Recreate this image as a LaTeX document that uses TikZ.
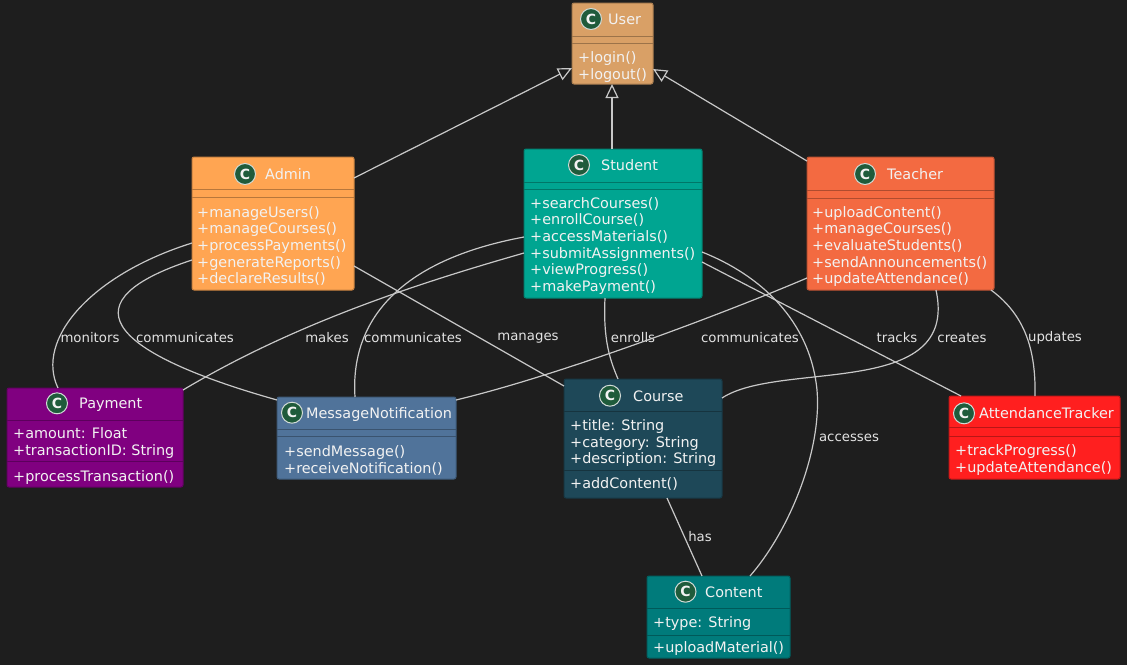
\documentclass[tikz,border=0pt]{standalone}
\usepackage{fontspec}
\setmainfont{DejaVu Sans}
\usetikzlibrary{arrows.meta,calc}

\definecolor{bgc}{HTML}{1E1E1E}
\definecolor{wire}{HTML}{C8C8C8}
\definecolor{ink}{HTML}{F2F2F2}
\definecolor{lbl}{HTML}{E2E2E2}
\definecolor{iconfill}{HTML}{1F5B3B}
\definecolor{cUser}{HTML}{D9A066}
\definecolor{cAdmin}{HTML}{FFA552}
\definecolor{cStudent}{HTML}{00A591}
\definecolor{cTeacher}{HTML}{F36A41}
\definecolor{cPayment}{HTML}{800080}
\definecolor{cMessage}{HTML}{50739A}
\definecolor{cCourse}{HTML}{1E4858}
\definecolor{cTracker}{HTML}{FF1F1F}
\definecolor{cContent}{HTML}{007B7B}

\tikzset{
  classbox/.style={draw=#1!78!black, fill=#1, line width=1pt, rounded corners=2pt,
    anchor=north west, inner sep=0pt, outer sep=0pt},
  sepstyle/.style={draw=#1!72!black, line width=1pt},
  hdrname/.style={anchor=west, inner sep=0pt, text=ink,
    font=\fontsize{14.4}{16}\selectfont, text height=14pt, text depth=3pt},
  member/.style={anchor=west, inner sep=0pt, text=ink,
    font=\fontsize{14.4}{16}\selectfont, text height=14pt, text depth=3pt},
  classicon/.style={circle, fill=iconfill, draw=ink!85!iconfill, line width=1pt,
    minimum size=21pt, inner sep=0pt, text=ink, font=\bfseries\fontsize{14}{14}\selectfont},
  edgelabel/.style={inner sep=0pt, text=lbl, font=\fontsize{13.3}{15}\selectfont},
  assoc/.style={draw=wire, line width=1.2pt},
  inherit/.style={assoc, -{Triangle[length=14pt, width=13pt, fill=bgc]}}
}

% one member line per entry, stacked 16.6 apart
\newcommand\classmembers[4]{%
  \foreach \entry [count=\k] in {#4}{%
    \node[member] (#1-\k) at (#2,{#3+(\k-1)*16.6}) {\entry};}}
% horizontal compartment divider across a class box
\newcommand\divider[3]{\draw[sepstyle=#3] (#1.west |- 0,#2) -- (#1.east |- 0,#2);}

\begin{document}
\begin{tikzpicture}[x=1pt, y=-1pt]
\useasboundingbox (0,0) rectangle (1127,665);
\fill[bgc] (0,0) rectangle (1127,665);

% ---- User ----
\node[classbox=cUser, minimum width=81pt, minimum height=81pt] (user) at (572,3) {};
\node[classicon] (user-icon) at (591,19) {C};
\node[hdrname] (user-name) at (608,19) {User};
\divider{user}{36}{cUser}
\divider{user}{43}{cUser}
\classmembers{user}{578}{57}{+login(),+logout()}

% ---- Admin ----
\node[classbox=cAdmin, minimum width=162pt, minimum height=133pt] (admin) at (192,157) {};
\node[classicon] (admin-icon) at (245,174) {C};
\node[hdrname] (admin-name) at (265,174) {Admin};
\divider{admin}{189}{cAdmin}
\divider{admin}{197}{cAdmin}
\classmembers{admin}{197}{211.7}{+manageUsers(),+manageCourses(),+processPayments(),+generateReports(),+declareResults()}

% ---- Student ----
\node[classbox=cStudent, minimum width=178pt, minimum height=149pt] (student) at (524,149) {};
\node[classicon] (student-icon) at (579,165) {C};
\node[hdrname] (student-name) at (601,165) {Student};
\divider{student}{182}{cStudent}
\divider{student}{189.5}{cStudent}
\classmembers{student}{530}{202.8}{+searchCourses(),+enrollCourse(),+accessMaterials(),+submitAssignments(),+viewProgress(),+makePayment()}

% ---- Teacher ----
\node[classbox=cTeacher, minimum width=187pt, minimum height=133pt] (teacher) at (807,157) {};
\node[classicon] (teacher-icon) at (865,174) {C};
\node[hdrname] (teacher-name) at (887,174) {Teacher};
\divider{teacher}{190}{cTeacher}
\divider{teacher}{198}{cTeacher}
\classmembers{teacher}{812}{211.7}{+uploadContent(),+manageCourses(),+evaluateStudents(),+sendAnnouncements(),+updateAttendance()}

% ---- Payment ----
\node[classbox=cPayment, minimum width=176pt, minimum height=99pt] (payment) at (7,388) {};
\node[classicon] (payment-icon) at (57,403.3) {C};
\node[hdrname] (payment-name) at (79,403.3) {Payment};
\divider{payment}{420}{cPayment}
\classmembers{payattr}{13}{433.3}{+amount: Float,+transactionID: String}
\divider{payment}{461.7}{cPayment}
\classmembers{payop}{13}{475.7}{+processTransaction()}

% ---- MessageNotification ----
\node[classbox=cMessage, minimum width=179pt, minimum height=82pt] (mn) at (277,397) {};
\node[classicon] (mn-icon) at (292,412.7) {C};
\node[hdrname] (mn-name) at (306,412.7) {MessageNotification};
\divider{mn}{429.3}{cMessage}
\divider{mn}{436.7}{cMessage}
\classmembers{mn}{284}{451}{+sendMessage(),+receiveNotification()}

% ---- Course ----
\node[classbox=cCourse, minimum width=158pt, minimum height=119pt] (course) at (564,379) {};
\node[classicon] (course-icon) at (610,395.7) {C};
\node[hdrname] (course-name) at (633,395.7) {Course};
\divider{course}{411.7}{cCourse}
\classmembers{courseattr}{570}{425}{+title: String,+category: String,+description: String}
\divider{course}{470}{cCourse}
\classmembers{courseop}{570}{483}{+addContent()}

% ---- AttendanceTracker ----
\node[classbox=cTracker, minimum width=171pt, minimum height=83pt] (at) at (949,396) {};
\node[classicon] (at-icon) at (964,413.3) {C};
\node[hdrname] (at-name) at (979,413.3) {AttendanceTracker};
\divider{at}{427.7}{cTracker}
\divider{at}{436.7}{cTracker}
\classmembers{at}{955}{450}{+trackProgress(),+updateAttendance()}

% ---- Content ----
\node[classbox=cContent, minimum width=143pt, minimum height=82pt] (content) at (647,576) {};
\node[classicon] (content-icon) at (685.5,591.7) {C};
\node[hdrname] (content-name) at (705,591.7) {Content};
\divider{content}{608.3}{cContent}
\classmembers{contentattr}{653}{621.7}{+type: String}
\divider{content}{635}{cContent}
\classmembers{contentop}{653}{647.3}{+uploadMaterial()}

% ---- generalisation ----
\draw[inherit] (admin.east |- 0,178) -- (user.west |- 0,68);
\draw[inherit] (student.north -| 612,0) -- (user.south -| 612,0);
\draw[inherit] (teacher.west |- 0,161) -- (user.east |- 0,69);

% ---- associations ----
\draw[assoc] (admin.west |- 0,243) .. controls (90,275) and (35,340) .. (payment.north -| 58,0);
\node[edgelabel] (l-monitors) at (90,338) {monitors};

\draw[assoc] (admin.west |- 0,260) .. controls (70,300) and (100,350) .. (mn.west |- 0,400);
\node[edgelabel] (l-comm1) at (185,338) {communicates};

\draw[assoc] (student.west |- 0,253) .. controls (430,280) and (300,320) .. (payment.east |- 0,390);
\node[edgelabel] (l-makes) at (327,338) {makes};

\draw[assoc] (student.west |- 0,237) .. controls (400,260) and (350,320) .. (mn.north -| 355,0);
\node[edgelabel] (l-comm2) at (413,338) {communicates};

\draw[assoc] (admin.east |- 0,266) -- (course.west |- 0,386);
\node[edgelabel] (l-manages) at (528,338) {manages};

\draw[assoc] (student.south -| 605,0) .. controls (603,340) and (610,360) .. (course.north -| 618,0);
\node[edgelabel] (l-enrolls) at (633,338) {enrolls};

\draw[assoc] (teacher.west |- 0,278) .. controls (720,315) and (560,375) .. (mn.east |- 0,400);
\node[edgelabel] (l-comm3) at (750,338) {communicates};

\draw[assoc] (student.east |- 0,252) .. controls (760,275) and (810,320) .. (817,390)
             .. controls (822,450) and (790,530) .. (content.north -| 750,0);
\node[edgelabel] (l-accesses) at (849,438) {accesses};

\draw[assoc] (student.east |- 0,262) -- (at.north -| 961,0);
\node[edgelabel] (l-tracks) at (897,338) {tracks};

\draw[assoc] (teacher.south -| 936,0) .. controls (960,400) and (780,360) .. (course.east |- 0,398);
\node[edgelabel] (l-creates) at (962,338) {creates};

\draw[assoc] (teacher.south -| 991,0) .. controls (1025,315) and (1036,350) .. (at.north -| 1035,0);
\node[edgelabel] (l-updates) at (1055,338) {updates};

\draw[assoc] (course.south -| 667,0) -- (content.north -| 702,0);
\node[edgelabel] (l-has) at (700,537) {has};
\end{tikzpicture}
\end{document}
